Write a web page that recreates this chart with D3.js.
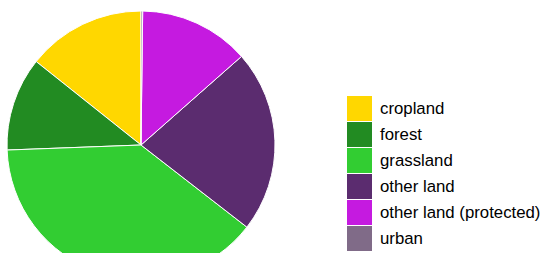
<!DOCTYPE html>
<html><head><meta charset="utf-8">
<script src="https://cdn.jsdelivr.net/npm/d3@7"></script>
<style>html,body{margin:0;padding:0;background:#fff;overflow:hidden}</style>
</head><body>
<svg id="c" width="540" height="253"></svg>
<script>
const categories = ["cropland","forest","grassland","other land","other land (protected)","urban"];
const values = [14.3, 11.3, 38.9, 22.0, 13.3, 0.2];
const colors = ["#ffd700","#228b22","#32cd32","#5b2c6f","#c51ae0","#806b88"];

const svg = d3.select("#c");
const cx = 141, cy = 145, R = 134;
const data = categories.map((c,i)=>({cat:c, val:values[i]}));
const pie = d3.pie().sort(null).value(d=>d.val).startAngle(0).endAngle(-2*Math.PI);
const arc = d3.arc().innerRadius(0).outerRadius(R);
const color = d3.scaleOrdinal().domain(categories).range(colors);

svg.append("g").attr("transform",`translate(${cx},${cy})`)
  .selectAll("path").data(pie(data)).join("path")
  .attr("d", arc).attr("fill", d=>color(d.data.cat))
  .attr("stroke","#fff").attr("stroke-width",1);

const lg = svg.append("g").attr("transform","translate(347,96)");
const rows = lg.selectAll("g").data(categories).join("g")
  .attr("transform",(d,i)=>`translate(0,${i*26})`);
rows.append("rect").attr("width",25).attr("height",25).attr("fill",d=>color(d));
rows.append("text").attr("x",33).attr("y",12.5).attr("dy","0.35em")
  .attr("font-family","Liberation Sans, Arial, Helvetica, sans-serif")
  .attr("font-size",16.8).attr("fill","#000").text(d=>d);
</script>
</body></html>
